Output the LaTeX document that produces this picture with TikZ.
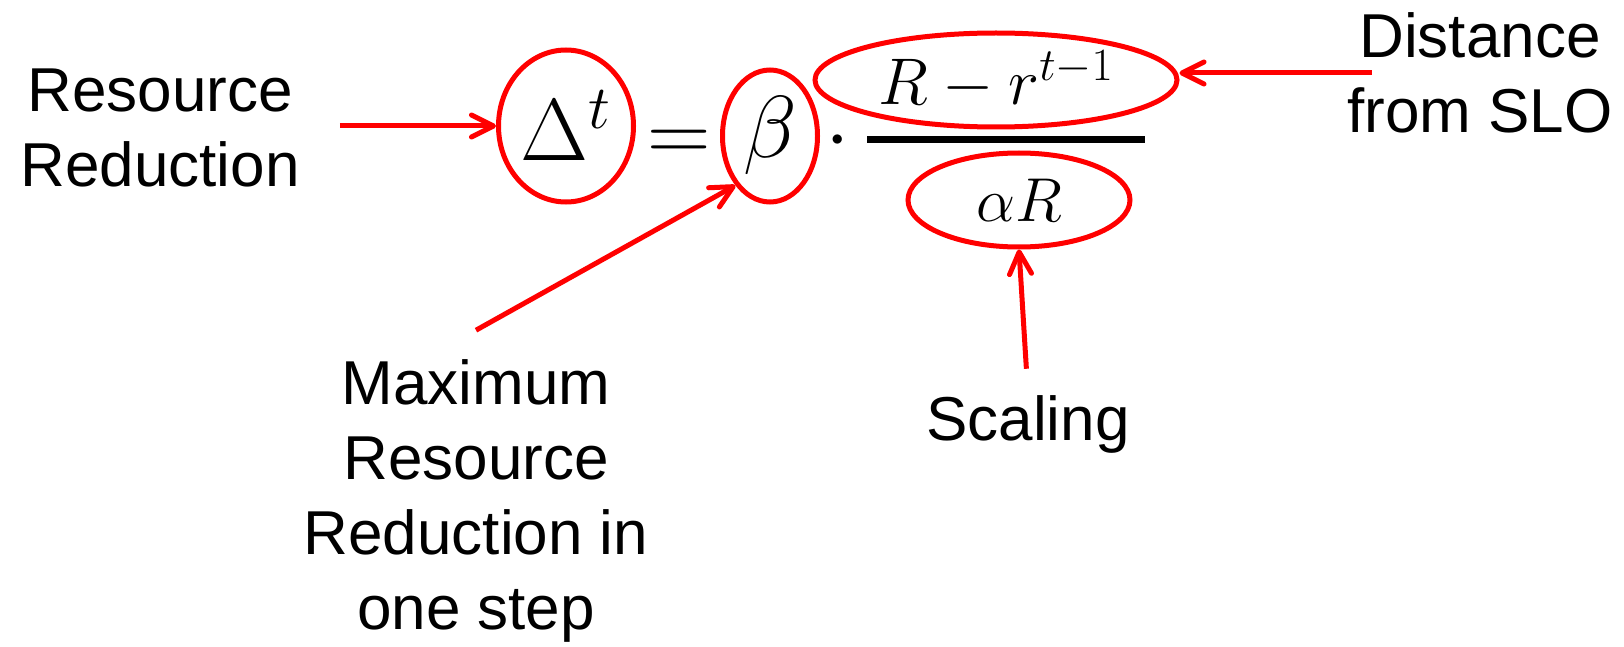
\RequirePackage{fix-cm}
\documentclass[tikz,border=0pt]{standalone}
\usepackage{fontspec}
\newfontfamily\labelfont{Liberation Sans}
\usetikzlibrary{shapes.geometric,arrows.meta}

\begin{document}
\begin{tikzpicture}[x=0.5pt,y=-0.5pt,
    ring/.style={ellipse,draw=red,line width=2.5pt,inner sep=0pt},
    note/.style={font=\labelfont\fontsize{31}{37.5}\selectfont,align=center,inner sep=0pt},
    big/.style={font=\fontsize{44}{50}\selectfont},
    arr/.style={draw=red,line width=2.5pt,-{Straight Barb[length=11pt,width=11pt,round]}}]
    \useasboundingbox (0,0) rectangle (1624,647);
    % the formula
    \node[ring,big,minimum width=67.5pt,minimum height=76pt] (delta) at (566,126) {$\Delta^{t}$};
    \node[big,anchor=base] (eq) at (679,162) {$=$};
    \node[ring,big,minimum width=47.5pt,minimum height=66pt] (beta) at (770,136) {$\beta$};
    \node[big,anchor=base] (dot) at (838,162) {$\cdot$};
    \node[ring,font=\fontsize{33}{40}\selectfont,minimum width=181pt,minimum height=47pt] (num) at (996,80) {$R-r^{t-1}$};
    \draw[line width=3.5pt] (867,140) -- (1145,140);                  % fraction bar
    \node[ring,font=\fontsize{31}{37}\selectfont,minimum width=111pt,minimum height=47pt] (den) at (1019,200) {$\alpha R$};
    % the notes
    \node[note] (resred) at (160,128) {Resource\\Reduction};
    \node[note] (maxred) at (476,501) {Maximum\\Resource\\Reduction in\\one step};
    \node[note] (scaling) at (1028,424) {Scaling};
    \node[note] (dist) at (1480,73) {Distance\\from SLO};
    % arrows to the formula
    \draw[arr,shorten <=20pt] (resred.east |- delta.west) -- (delta.west);
    \draw[arr] ([yshift=14.5pt]maxred.north) -- (beta.235);
    \draw[arr,shorten <=13pt] (scaling.north) -- (den.south);
    \draw[arr,shorten <=-12.5pt] (dist.west) -- (dist.west -| num.east);
\end{tikzpicture}
\end{document}
